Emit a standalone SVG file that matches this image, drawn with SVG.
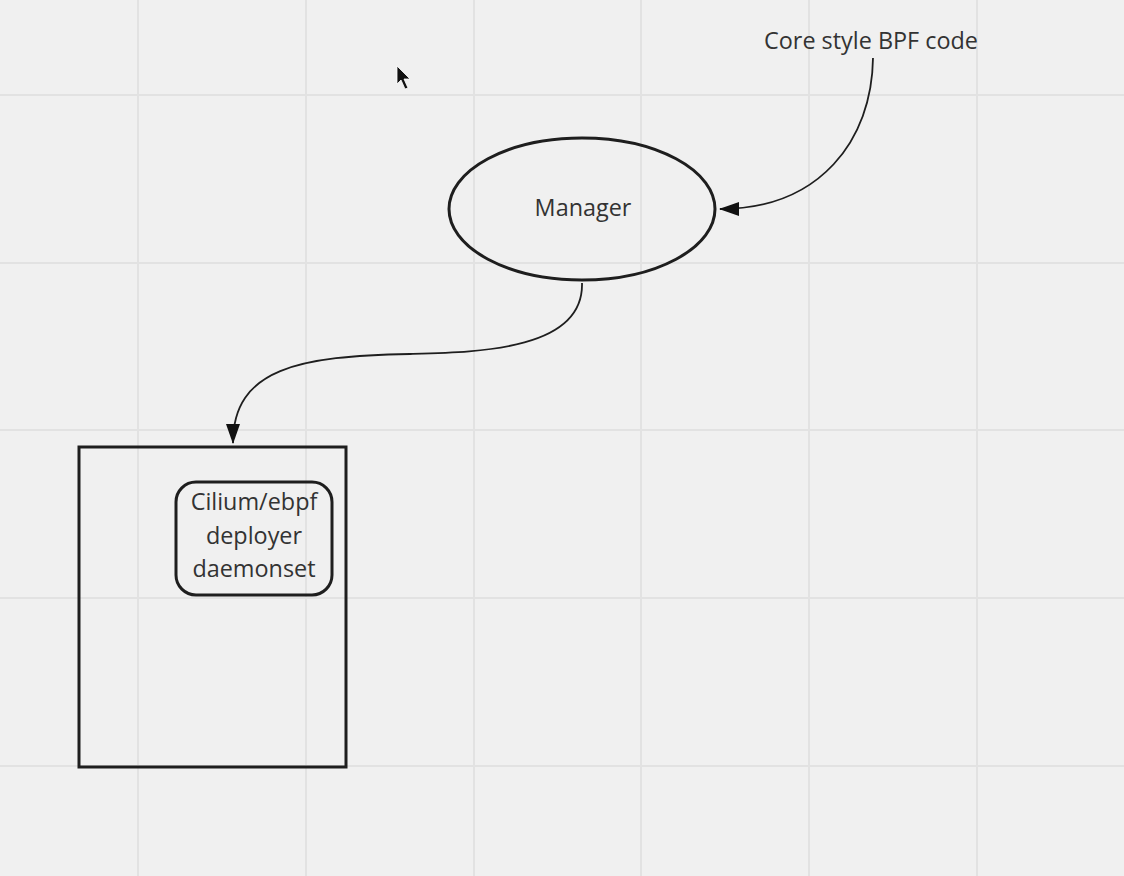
<svg xmlns="http://www.w3.org/2000/svg" width="1124" height="876" viewBox="0 0 1124 876">
<defs>
<style>
.grid{stroke:#e2e2e2;stroke-width:2}
.shape{fill:none;stroke:#1e1e1e;stroke-width:3}
.conn{fill:none;stroke:#1e1e1e;stroke-width:1.8}
.lbl{font-family:"Open Sans","Noto Sans","Liberation Sans",sans-serif;font-size:23.4px;fill:#333;text-anchor:middle;dominant-baseline:central}
</style>
<marker id="arr" viewBox="0 0 20 14" refX="19" refY="7" markerWidth="20" markerHeight="14" markerUnits="userSpaceOnUse" orient="auto">
<path d="M0,0 L20,7 L0,14 Z" fill="#111"/>
</marker>
</defs>
<rect width="1124" height="876" fill="#f0f0f0"/>
<g id="grid">
<line class="grid" x1="138" y1="0" x2="138" y2="876"/>
<line class="grid" x1="306" y1="0" x2="306" y2="876"/>
<line class="grid" x1="474" y1="0" x2="474" y2="876"/>
<line class="grid" x1="641" y1="0" x2="641" y2="876"/>
<line class="grid" x1="809" y1="0" x2="809" y2="876"/>
<line class="grid" x1="977" y1="0" x2="977" y2="876"/>
<line class="grid" x1="0" y1="95" x2="1124" y2="95"/>
<line class="grid" x1="0" y1="263" x2="1124" y2="263"/>
<line class="grid" x1="0" y1="430" x2="1124" y2="430"/>
<line class="grid" x1="0" y1="598" x2="1124" y2="598"/>
<line class="grid" x1="0" y1="766" x2="1124" y2="766"/>
</g>
<g id="connectors">
<path class="conn" d="M873,58 C872,140 820,209 720,209" marker-end="url(#arr)"/>
<path class="conn" d="M582,283 C584,350 480,352 410,354 C300,356 233,368 233,443" marker-end="url(#arr)"/>
</g>
<g id="core-style-bpf-code">
<text class="lbl" x="871" y="40">Core style BPF code</text>
</g>
<g id="manager">
<ellipse class="shape" cx="582" cy="209" rx="133" ry="71"/>
<text class="lbl" x="583" y="207">Manager</text>
</g>
<g id="node-container">
<rect class="shape" x="79" y="447" width="267" height="320"/>
</g>
<g id="cilium-deployer">
<rect class="shape" x="176" y="482" width="156" height="113" rx="20"/>
<text class="lbl" x="254" y="501">Cilium/ebpf</text>
<text class="lbl" x="254" y="535">deployer</text>
<text class="lbl" x="254" y="568">daemonset</text>
</g>
<g id="cursor">
<path d="M397,66 L397,84 L401,80 L405,89 L408,88 L404,79 L410,79 Z" fill="#111" stroke="#fff" stroke-width="0.8"/>
</g>
</svg>
